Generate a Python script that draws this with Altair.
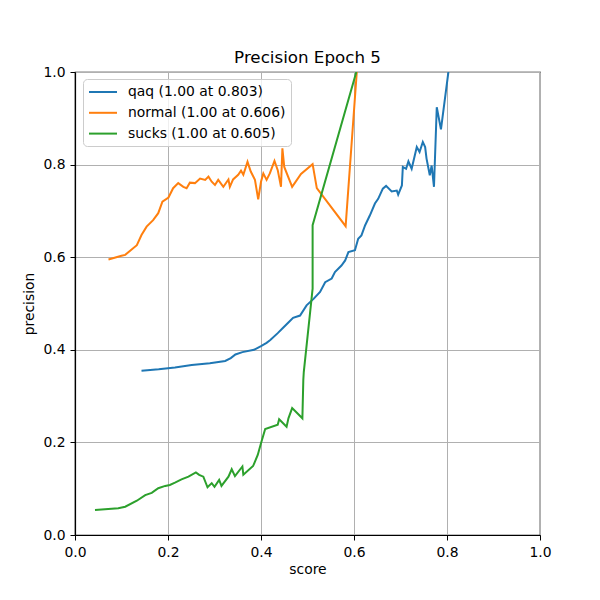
import altair as alt
import pandas as pd

series_names = ["qaq (1.00 at 0.803)", "normal (1.00 at 0.606)", "sucks (1.00 at 0.605)"]
series_colors = ["#1f77b4", "#ff7f0e", "#2ca02c"]

qaq_x = [0.143, 0.180, 0.215, 0.251, 0.290, 0.323, 0.335, 0.345, 0.360, 0.385, 0.400, 0.412, 0.420,
         0.436, 0.447, 0.460, 0.469, 0.484, 0.498, 0.513, 0.527, 0.538, 0.552, 0.559, 0.573,
         0.581, 0.588, 0.602, 0.609, 0.616, 0.624, 0.634, 0.645, 0.652, 0.662, 0.669, 0.681,
         0.692, 0.695, 0.703, 0.705, 0.712, 0.717, 0.724, 0.735, 0.741, 0.748, 0.753, 0.756,
         0.763, 0.767, 0.772, 0.778, 0.787, 0.803]
qaq_y = [0.355, 0.358, 0.362, 0.367, 0.371, 0.376, 0.382, 0.390, 0.395, 0.400, 0.408, 0.415, 0.421,
         0.436, 0.447, 0.460, 0.469, 0.474, 0.496, 0.510, 0.525, 0.546, 0.554, 0.568, 0.582,
         0.593, 0.611, 0.615, 0.640, 0.647, 0.669, 0.690, 0.716, 0.726, 0.748, 0.754, 0.742,
         0.744, 0.735, 0.755, 0.795, 0.791, 0.807, 0.791, 0.838, 0.827, 0.849, 0.838, 0.813,
         0.777, 0.798, 0.752, 0.924, 0.876, 1.000]

normal_x = [0.072, 0.100, 0.108, 0.133, 0.143, 0.154, 0.168, 0.179, 0.188, 0.201, 0.211, 0.222,
            0.233, 0.240, 0.247, 0.258, 0.269, 0.280, 0.287, 0.294, 0.301, 0.308, 0.319, 0.330,
            0.333, 0.340, 0.351, 0.357, 0.362, 0.371, 0.378, 0.387, 0.394, 0.400, 0.405, 0.412,
            0.419, 0.429, 0.436, 0.443, 0.446, 0.450, 0.467, 0.486, 0.511, 0.520, 0.582, 0.606]
normal_y = [0.595, 0.603, 0.605, 0.626, 0.648, 0.666, 0.680, 0.695, 0.720, 0.729, 0.749, 0.760,
            0.752, 0.749, 0.761, 0.760, 0.770, 0.767, 0.774, 0.763, 0.756, 0.767, 0.752, 0.768,
            0.752, 0.768, 0.778, 0.787, 0.778, 0.806, 0.785, 0.767, 0.725, 0.763, 0.781, 0.767,
            0.781, 0.808, 0.788, 0.752, 0.835, 0.795, 0.752, 0.780, 0.801, 0.749, 0.667, 1.000]

sucks_x = [0.043, 0.093, 0.108, 0.133, 0.151, 0.165, 0.179, 0.194, 0.204, 0.215, 0.229, 0.244,
           0.260, 0.267, 0.276, 0.285, 0.294, 0.300, 0.310, 0.315, 0.330, 0.337, 0.344, 0.360,
           0.362, 0.383, 0.393, 0.400, 0.409, 0.436, 0.439, 0.455, 0.459, 0.467, 0.489, 0.491,
           0.492, 0.511, 0.511, 0.605]
sucks_y = [0.054, 0.058, 0.061, 0.074, 0.086, 0.091, 0.101, 0.106, 0.108, 0.113, 0.120, 0.126,
           0.135, 0.130, 0.126, 0.103, 0.112, 0.104, 0.119, 0.106, 0.126, 0.142, 0.127, 0.148,
           0.130, 0.149, 0.173, 0.198, 0.229, 0.238, 0.250, 0.234, 0.252, 0.274, 0.252, 0.335,
           0.352, 0.532, 0.669, 1.000]

rows = []
for name, xs, ys in zip(series_names, [qaq_x, normal_x, sucks_x], [qaq_y, normal_y, sucks_y]):
    for i, (x, y) in enumerate(zip(xs, ys)):
        rows.append({"series": name, "score": x, "precision": y, "idx": i})
df = pd.DataFrame(rows)

color = alt.Color("series:N",
                  scale=alt.Scale(domain=series_names, range=series_colors),
                  sort=series_names,
                  legend=alt.Legend(title=None, orient="none", legendX=8, legendY=7,
                                    symbolType="M-1,0H3", symbolSize=196, symbolStrokeWidth=2,
                                    labelFontSize=13.9, labelFont="DejaVu Sans", labelColor="black",
                                    labelOffset=24, rowPadding=5.8, padding=5,
                                    strokeColor="#cccccc", fillColor="rgba(255,255,255,0.8)",
                                    cornerRadius=4))

layers = []
for name in series_names:
    layers.append(
        alt.Chart(df[df.series == name]).mark_line(strokeWidth=2, clip=True).encode(
            x=alt.X("score:Q", scale=alt.Scale(domain=[0, 1], nice=False),
                    axis=alt.Axis(values=[0, 0.2, 0.4, 0.6, 0.8, 1.0], format=".1f", title="score")),
            y=alt.Y("precision:Q", scale=alt.Scale(domain=[0, 1], nice=False),
                    axis=alt.Axis(values=[0, 0.2, 0.4, 0.6, 0.8, 1.0], format=".1f", title="precision")),
            color=color,
            order="idx:Q",
        )
    )

chart = alt.layer(*layers).properties(
    width=465, height=463,
    title=alt.Title("Precision Epoch 5", fontSize=16.7, font="DejaVu Sans", fontWeight="normal",
                    color="black", offset=-1.5),
    autosize=alt.AutoSizeParams(type="none"),
    padding={"left": 67, "top": 64, "right": 40, "bottom": 50},
).configure_view(stroke="black", strokeWidth=1.2).configure_axis(
    grid=True, gridColor="#b0b0b0", gridWidth=1,
    domainColor="black", domainWidth=1.2, tickColor="black", tickSize=5, tickWidth=1,
    labelFont="DejaVu Sans", labelFontSize=13.9, labelColor="black", labelPadding=5,
    titleFont="DejaVu Sans", titleFontSize=13.9, titleFontWeight="normal", titleColor="black",
).configure_axisX(titlePadding=4, labelFlush=False).configure_axisY(titlePadding=6, labelFlush=False)

chart.save("out.html", embed_options={"renderer": "svg", "actions": False})
